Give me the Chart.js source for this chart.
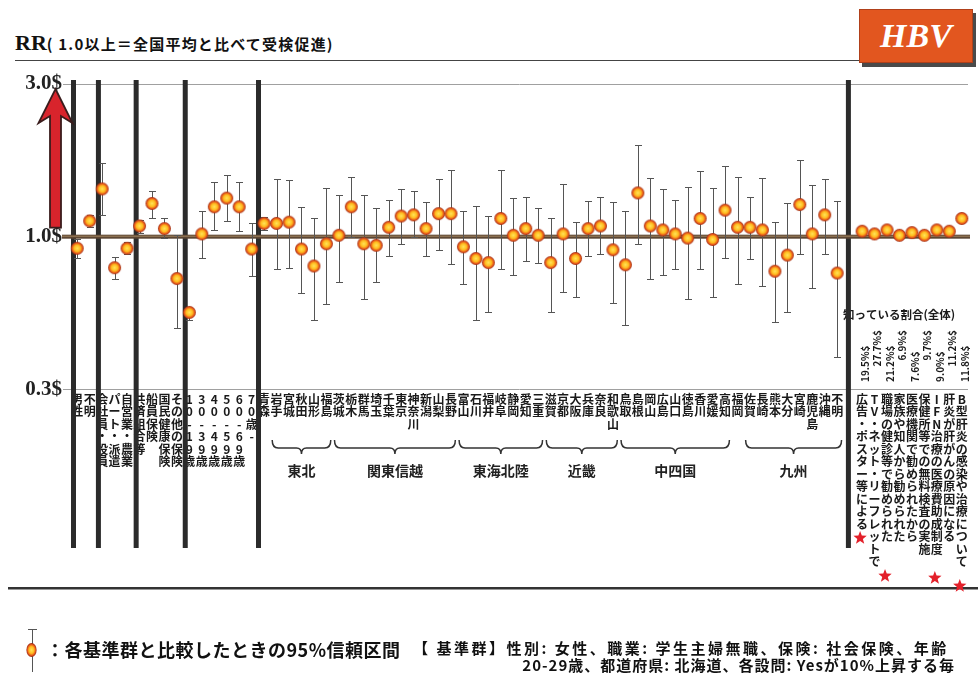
<!DOCTYPE html>
<html lang="ja">
<head>
<meta charset="utf-8">
<script src="https://cdn.jsdelivr.net/npm/chart.js@4.4.1/dist/chart.umd.min.js"></script>
<style>
	html, body { margin: 0; padding: 0; background: #fff; }
	body { width: 978px; height: 674px; position: relative; overflow: hidden; font-family: "Noto Sans CJK JP", sans-serif; color: #111; }
	#chart { position: absolute; left: 0; top: 0; }
	.title { position: absolute; left: 15px; top: 30px; white-space: nowrap; }
	.title .rr { font-family: "Liberation Serif", serif; font-weight: bold; font-size: 22px; }
	.title .sub { font-weight: bold; font-size: 15px; letter-spacing: 1.2px; }
	.rule { position: absolute; left: 15px; top: 60px; width: 845px; border-top: 1px solid #444; }
	.hbv { position: absolute; left: 859px; top: 9px; width: 112px; height: 52px; background: #e2561f; border: 1px solid #b0401a; box-shadow: 3px 4px 0 #4a4a4a; color: #fff; font-family: "Liberation Serif", serif; font-style: italic; font-weight: bold; font-size: 34px; line-height: 52px; text-align: center; }
	.leg1 { position: absolute; left: 46px; top: 636px; font-weight: bold; font-size: 18px; white-space: nowrap; letter-spacing: 0.5px; }
	.leg2 { position: absolute; left: 413px; top: 637px; font-weight: bold; font-size: 15px; white-space: nowrap; letter-spacing: 2.5px; }
	.leg3 { position: absolute; right: 23px; top: 654px; font-weight: bold; font-size: 15px; white-space: nowrap; letter-spacing: 1px; }
</style>
</head>
<body>
<div class="title"><span class="rr">RR</span><span class="sub">( 1.0以上＝全国平均と比べて受検促進)</span></div>
<div class="rule"></div>
<div class="hbv">HBV</div>
<canvas id="chart" width="978" height="674"></canvas>
<div class="leg1">：各基準群と比較したときの95%信頼区間</div>
<div class="leg2">【 基準群】性別: 女性、職業: 学生主婦無職、保険: 社会保険、年齢</div>
<div class="leg3">20-29歳、都道府県: 北海道、各設問: Yesが10%上昇する毎</div>
<script>
// categories (index 62 is an empty slot before the question block)
const categories = [
	"男性", "不明",
	"会社員・役員", "パート・派遣", "自営業・農業",
	"共済組合等", "船員保険", "国民健康保険", "その他の保険",
	"10-19歳", "30-39歳", "40-49歳", "50-59歳", "60-69歳", "70歳-",
	"青森", "岩手", "宮城", "秋田", "山形", "福島",
	"茨城", "栃木", "群馬", "埼玉", "千葉", "東京", "神奈川", "新潟", "山梨", "長野",
	"富山", "石川", "福井", "岐阜", "静岡", "愛知", "三重",
	"滋賀", "京都", "大阪", "兵庫", "奈良", "和歌山",
	"鳥取", "島根", "岡山", "広島", "山口", "徳島", "香川", "愛媛", "高知",
	"福岡", "佐賀", "長崎", "熊本", "大分", "宮崎", "鹿児島", "沖縄", "不明",
	"",
	"広告・ポスター等による", "TV・ネット・リーフレットで", "職場の健診等で勧められた",
	"家族や知人から勧められた", "医療機関で勧められたから", "保健所等での無料検査の実施",
	"IFN治療の医療費助成制度", "肝炎が肝がんの原因になる", "B型肝炎の感染や治療について",
];

const rrValues = [
	0.92, 1.12, 1.41, 0.80, 0.92, 1.08, 1.27, 1.06, 0.74, 0.58,
	1.02, 1.24, 1.32, 1.24, 0.915, 1.10, 1.10, 1.11, 0.915, 0.81,
	0.95, 1.01, 1.24, 0.95, 0.94, 1.07, 1.16, 1.17, 1.06, 1.18,
	1.18, 0.93, 0.855, 0.83, 1.14, 1.01, 1.06, 1.01, 0.83, 1.02,
	0.855, 1.06, 1.08, 0.91, 0.817, 1.37, 1.08, 1.05, 1.02, 0.99,
	1.14, 0.98, 1.21, 1.07, 1.07, 1.05, 0.78, 0.876, 1.26, 1.02,
	1.17, 0.77, null, 1.04, 1.02, 1.05, 1.01, 1.03, 1.01, 1.05,
	1.04, 1.14,
];

const ciLower = [
	0.86, 1.07, 1.17, 0.737, 0.88, 1.03, 1.14, 0.99, 0.52, 0.55,
	0.855, 1.05, 1.12, 1.04, 0.755, 1.05, 0.79, 0.80, 0.667, 0.55,
	0.618, 0.72, 1.00, 0.64, 0.72, 0.87, 0.95, 1.00, 0.87, 0.91,
	0.82, 0.71, 0.55, 0.58, 0.79, 0.76, 0.84, 0.83, 0.58, 0.67,
	0.65, 0.87, 0.88, 0.62, 0.53, 0.95, 0.74, 0.76, 0.79, 0.64,
	0.79, 0.65, 0.86, 0.71, 0.85, 0.70, 0.54, 0.58, 0.88, 0.69,
	0.88, 0.42, null, 1.02, 1.00, 1.03, 0.99, 1.01, 0.99, 1.03,
	1.02, 1.12,
];

const ciUpper = [
	0.98, 1.17, 1.70, 0.866, 0.96, 1.13, 1.39, 1.14, 1.01, 0.60,
	1.20, 1.48, 1.56, 1.48, 1.10, 1.15, 1.51, 1.50, 1.24, 1.14,
	1.42, 1.35, 1.54, 1.35, 1.23, 1.30, 1.41, 1.39, 1.28, 1.51,
	1.62, 1.20, 1.25, 1.16, 1.61, 1.32, 1.33, 1.23, 1.14, 1.46,
	1.11, 1.29, 1.33, 1.28, 1.20, 1.93, 1.53, 1.41, 1.30, 1.43,
	1.60, 1.42, 1.66, 1.54, 1.33, 1.52, 1.11, 1.27, 1.74, 1.45,
	1.51, 1.29, null, 1.06, 1.04, 1.07, 1.03, 1.05, 1.03, 1.07,
	1.06, 1.16,
];

const yTicks = [1 / 3, 1, 3];
const yTickLabels = ["0.3$", "1.0$", "3.0$"];

// group dividers, as fractional category positions
const separators = [-0.3, 1.7, 4.73, 8.67, 14.55, 61.9];

const regions = [
	["東北", 16, 20],
	["関東信越", 21, 30],
	["東海北陸", 31, 37],
	["近畿", 38, 43],
	["中四国", 44, 52],
	["九州", 54, 61],
];

const awareFirst = 63;
const awarePct = ["19.5%$", "27.7%$", "21.2%$", "6.9%$", "7.6%$", "9.7%$", "9.0%$", "11.2%$", "11.8%$"];
const starMarks = [[63, 538], [65, 576], [69, 578], [71, 586]];

const JP = '"Noto Sans CJK JP", sans-serif';

function makeMarker(r, sx = 1, sy = 1) {
	const w = Math.ceil(r * 2 * sx) + 2;
	const h = Math.ceil(r * 2 * sy) + 2;
	const c = document.createElement("canvas");
	c.width = w;
	c.height = h;
	const g = c.getContext("2d");
	g.translate(w / 2, h / 2);
	g.scale(sx, sy);
	const grad = g.createRadialGradient(0, 0, 0, 0, 0, r);
	grad.addColorStop(0, "#ffe45a");
	grad.addColorStop(0.5, "#ffbb1e");
	grad.addColorStop(0.78, "#e85a1a");
	grad.addColorStop(1, "#962812");
	g.fillStyle = grad;
	g.beginPath();
	g.arc(0, 0, r, 0, Math.PI * 2);
	g.fill();
	return c;
}

const marker = makeMarker(6.5);

function drawStar(ctx, cx, cy, R) {
	ctx.beginPath();
	for (let i = 0; i < 10; i++) {
		const rad = i % 2 === 0 ? R : R * 0.42;
		const a = -Math.PI / 2 + (i * Math.PI) / 5;
		ctx.lineTo(cx + rad * Math.cos(a), cy + rad * Math.sin(a));
	}
	ctx.closePath();
	ctx.fillStyle = "#e3202a";
	ctx.fill();
}

const decor = {
	id: "decor",
	beforeDatasetsDraw(chart) {
		const ctx = chart.ctx;
		const x = chart.scales.x;
		const y = chart.scales.y;
		const step = x.getPixelForValue(1) - x.getPixelForValue(0);
		ctx.save();

		// category labels, characters stacked vertically
		ctx.fillStyle = "#1a1a1a";
		ctx.font = "bold 12px " + JP;
		ctx.textAlign = "center";
		ctx.textBaseline = "middle";
		categories.forEach((lab, i) => {
			const px = x.getPixelForValue(i);
			Array.from(lab).forEach((ch, k) => {
				ctx.fillText(ch, px, 399 + k * 12.5);
			});
		});

		// awareness header and percentages
		ctx.font = "bold 11.5px " + JP;
		ctx.textAlign = "left";
		ctx.fillText("知っている割合(全体)", 843, 315);
		ctx.font = "bold 10px " + JP;
		awarePct.forEach((t, k) => {
			const px = x.getPixelForValue(awareFirst + k) + 3;
			ctx.save();
			ctx.translate(px, k % 2 === 0 ? 382 : 330);
			ctx.rotate(-Math.PI / 2);
			ctx.textAlign = k % 2 === 0 ? "left" : "right";
			ctx.fillText(t, 0, 0);
			ctx.restore();
		});

		// thick group dividers
		ctx.fillStyle = "#2b2b2b";
		const top = y.getPixelForValue(3) - 4;
		separators.forEach((s) => {
			const px = x.getPixelForValue(0) + s * step;
			ctx.fillRect(px - 2.5, top, 5, 548 - top);
		});

		// reference line at RR = 1.0
		const y1 = y.getPixelForValue(1);
		ctx.fillStyle = "#5c4633";
		ctx.fillRect(62, y1 - 2, 908, 4);
		ctx.fillStyle = "#a2845f";
		ctx.fillRect(62, y1 - 1, 908, 1);

		// 95% CI whiskers
		ctx.strokeStyle = "#555";
		ctx.lineWidth = 1;
		rrValues.forEach((v, i) => {
			if (v == null) return;
			const px = Math.round(x.getPixelForValue(i)) + 0.5;
			const lo = Math.round(y.getPixelForValue(ciLower[i])) + 0.5;
			const hi = Math.round(y.getPixelForValue(ciUpper[i])) + 0.5;
			ctx.beginPath();
			ctx.moveTo(px, lo);
			ctx.lineTo(px, hi);
			ctx.moveTo(px - 3.5, lo);
			ctx.lineTo(px + 3.5, lo);
			ctx.moveTo(px - 3.5, hi);
			ctx.lineTo(px + 3.5, hi);
			ctx.stroke();
		});
		ctx.restore();
	},
	afterDraw(chart) {
		const ctx = chart.ctx;
		const x = chart.scales.x;
		const y = chart.scales.y;
		ctx.save();

		// red arrow from 1.0 up to 3.0
		const tip = y.getPixelForValue(3) + 5;
		const bot = y.getPixelForValue(1) - 9;
		const ax = 55.5;
		ctx.beginPath();
		ctx.moveTo(ax, tip);
		ctx.lineTo(ax + 17, tip + 34);
		ctx.lineTo(ax + 5.5, tip + 27);
		ctx.lineTo(ax + 5.5, bot);
		ctx.lineTo(ax - 5.5, bot);
		ctx.lineTo(ax - 5.5, tip + 27);
		ctx.lineTo(ax - 17, tip + 34);
		ctx.closePath();
		ctx.fillStyle = "#d8242c";
		ctx.fill();
		ctx.strokeStyle = "#3a1c1c";
		ctx.lineWidth = 1.8;
		ctx.stroke();

		// region braces
		const step = x.getPixelForValue(1) - x.getPixelForValue(0);
		ctx.strokeStyle = "#333";
		ctx.lineWidth = 1.5;
		ctx.fillStyle = "#222";
		ctx.font = "bold 14px " + JP;
		ctx.textAlign = "center";
		ctx.textBaseline = "middle";
		regions.forEach(([name, a, b]) => {
			const x1 = x.getPixelForValue(a) - step * 0.35;
			const x2 = x.getPixelForValue(b) + step * 0.35;
			const mid = (x1 + x2) / 2;
			const y0 = 440;
			ctx.beginPath();
			ctx.moveTo(x1, y0);
			ctx.quadraticCurveTo(x1, y0 + 8, x1 + 6, y0 + 8);
			ctx.lineTo(mid - 5, y0 + 8);
			ctx.quadraticCurveTo(mid, y0 + 8, mid, y0 + 14);
			ctx.quadraticCurveTo(mid, y0 + 8, mid + 5, y0 + 8);
			ctx.lineTo(x2 - 6, y0 + 8);
			ctx.quadraticCurveTo(x2, y0 + 8, x2, y0);
			ctx.stroke();
			ctx.fillText(name, mid, 471);
		});

		// bottom rule
		ctx.fillStyle = "#333";
		ctx.fillRect(8, 587, 970, 2.5);

		// stars
		starMarks.forEach(([i, sy]) => drawStar(ctx, x.getPixelForValue(i) - 2, sy, 7));

		// legend icon
		ctx.strokeStyle = "#555";
		ctx.lineWidth = 1;
		ctx.beginPath();
		ctx.moveTo(32.5, 629);
		ctx.lineTo(32.5, 672);
		ctx.moveTo(28, 629.5);
		ctx.lineTo(37, 629.5);
		ctx.stroke();
		ctx.drawImage(makeMarker(6, 0.85, 1.15), 25, 642);
		ctx.restore();
	},
};

const ctx = document.getElementById("chart").getContext("2d");
new Chart(ctx, {
	type: "line",
	data: {
		labels: categories,
		datasets: [
			{
				data: rrValues,
				showLine: false,
				pointStyle: marker,
				pointRadius: 7,
				pointHoverRadius: 7,
			},
		],
	},
	options: {
		responsive: false,
		animation: false,
		events: [],
		layout: { padding: { left: 0, top: 84, right: 10, bottom: 270 } },
		plugins: { legend: { display: false }, tooltip: { enabled: false } },
		scales: {
			x: { type: "category", offset: true, display: false },
			y: {
				type: "logarithmic",
				min: 1 / 3,
				max: 3,
				afterBuildTicks: (s) => {
					s.ticks = yTicks.map((v) => ({ value: v }));
				},
				afterFit: (s) => {
					s.width = 71;
				},
				border: { display: false },
				grid: { color: "#a0a0a0", lineWidth: 1, tickLength: 8 },
				ticks: {
					padding: 1,
					color: "#222",
					font: { family: '"Liberation Serif", serif', size: 21, weight: "bold" },
					callback: (v, i) => yTickLabels[i],
				},
			},
		},
	},
	plugins: [decor],
});
</script>
</body>
</html>
